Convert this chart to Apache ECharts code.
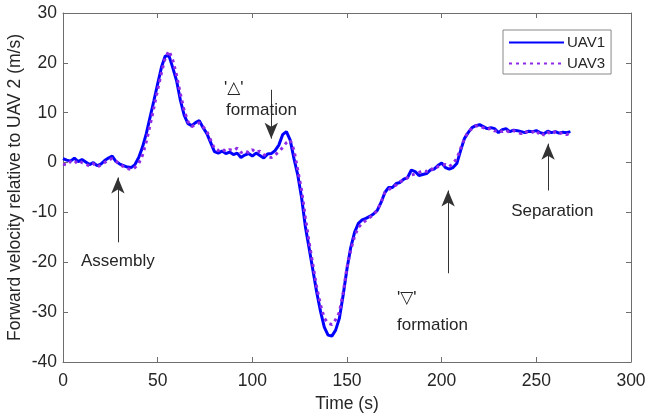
<!DOCTYPE html>
<html>
<head>
<meta charset="utf-8">
<script src="https://cdn.jsdelivr.net/npm/echarts@6/dist/echarts.min.js"></script>
<style>html,body{margin:0;padding:0;background:#fff;}#c{width:648px;height:416px;}</style>
</head>
<body>
<div id="c"></div>
<script>
var time = [0,2,4,6,8,10,12,14,16,18,20,22,24,26,28,30,32,34,36,38,40,42,44,46,48,50,52,54,56,58,60,62,64,66,68,70,72,74,76,78,80,82,84,86,88,90,92,94,96,98,100,102,104,106,108,110,112,114,116,118,120,122,124,126,128,130,132,134,136,138,140,142,144,146,148,150,152,154,156,158,160,162,164,166,168,170,172,174,176,178,180,182,184,186,188,190,192,194,196,198,200,202,204,206,208,210,212,214,216,218,220,222,224,226,228,230,232,234,236,238,240,242,244,246,248,250,252,254,256,258,260,262,264,266,268];
var uav1 = [0.8,0.5,0.3,0.9,0.2,0.6,0.1,-0.4,0.0,-0.6,-0.3,0.4,0.9,1.3,0.2,-0.3,-0.6,-0.9,-1.0,-0.4,1.0,3.1,5.8,9.1,12.4,15.8,19.1,21.4,21.4,19.0,16.4,12.5,9.5,7.8,7.4,8.0,8.4,7.0,5.8,4.0,2.2,1.9,2.3,1.8,2.1,1.6,1.9,1.0,1.5,1.8,1.3,1.9,1.4,0.9,1.7,1.8,2.4,3.5,5.6,6.2,4.5,0.8,-2.5,-7.0,-12.8,-17.2,-21.6,-26.0,-29.8,-33.0,-34.6,-34.8,-33.6,-31.2,-26.5,-21.3,-17.0,-14.0,-12.2,-11.5,-11.2,-10.8,-10.3,-9.6,-8.0,-6.0,-5.0,-5.0,-4.2,-4.0,-3.3,-3.0,-1.5,-1.8,-2.6,-2.4,-2.2,-1.5,-1.3,-0.6,-0.1,-1.0,-1.3,-1.0,-0.2,2.4,4.8,6.0,7.0,7.4,7.6,7.2,6.8,7.0,6.8,6.0,6.6,6.8,6.2,6.5,6.4,6.2,6.0,6.3,6.2,6.4,6.0,5.8,6.3,6.0,6.2,5.9,6.1,6.0,6.2];
var uav3 = [-0.3,-0.5,0.2,-0.2,0.5,0.0,-0.3,-0.7,-0.2,-0.9,-0.5,0.0,0.6,0.8,0.3,-0.4,-0.8,-1.2,-1.4,-1.0,-0.2,1.5,4.2,7.5,11.0,14.6,18.0,21.0,22.4,20.5,17.5,13.8,10.5,8.2,7.2,7.6,8.0,7.2,6.2,4.5,2.8,2.4,2.8,2.2,2.6,2.4,2.9,2.0,2.4,2.0,2.6,2.0,2.3,1.6,1.2,1.0,1.5,2.2,3.0,4.0,4.5,2.5,-1.5,-5.5,-11.0,-16.0,-20.5,-25.0,-28.5,-31.2,-32.2,-32.5,-31.5,-30.0,-26.0,-21.0,-17.5,-14.8,-13.0,-12.2,-11.6,-11.0,-10.5,-9.5,-8.0,-6.0,-5.5,-4.8,-4.5,-3.8,-3.6,-3.0,-2.5,-2.3,-2.0,-1.6,-1.8,-1.2,-1.5,-0.8,-0.6,-0.4,-0.8,-0.2,0.8,2.8,4.8,6.2,6.8,7.4,7.2,7.0,6.6,6.9,6.3,6.6,6.2,6.5,6.0,6.4,6.1,5.8,6.3,5.9,6.2,5.6,6.3,5.5,6.1,5.7,6.2,5.8,6.0,5.6,6.0];
var xTicks = [0,50,100,150,200,250,300];
var yTicks = [-40,-30,-20,-10,0,10,20,30];
// annotation arrows: [tailT, tailV, tipT, tipV]
var arrows = [[29,-16,29,-3],[110,14.6,110,4.8],[203.4,-22.2,203.4,-5.6],[256.2,-5.6,256.2,3.8]];
// annotation texts: [text, t, v]
var notes = [["Assembly",9.5,-19.8],["'\u25B3'",85,14.8],["formation",86.1,10.4],["'\u25BD'",176.4,-27.3],["formation",176.4,-32.7],["Separation",236.7,-9.8]];

var txt = '#262626';
var axisCol = '#6e6e6e';
function pairs(v){ return time.map(function(t,i){ return [t, v[i]]; }); }

var chart = echarts.init(document.getElementById('c'), null, {renderer:'canvas'});
var axisCommon = {
  min: 0, max: 300, interval: 50,
  axisLine: {show:true, onZero:false, lineStyle:{color:axisCol, width:1}},
  axisTick: {show:true, inside:true, length:5, lineStyle:{color:axisCol}},
  splitLine: {show:false}
};
var yCommon = {
  min: -40, max: 30, interval: 10,
  axisLine: {show:true, onZero:false, lineStyle:{color:axisCol, width:1}},
  axisTick: {show:true, inside:true, length:5, lineStyle:{color:axisCol}},
  splitLine: {show:false}
};
chart.setOption({
  animation: false,
  textStyle: {fontFamily: 'Liberation Sans, Arial, sans-serif'},
  grid: {left:63, right:17, top:13, bottom:54, containLabel:false, outerBoundsMode:'none'},
  legend: {
    data: ['UAV1','UAV3'],
    orient: 'vertical', left: 503, top: 30,
    padding: [5, 6, 3, 5], itemGap: 6, itemWidth: 55, itemHeight: 14,
    borderColor: '#888', borderWidth: 1, backgroundColor: '#fff',
    itemStyle: {color:'transparent', borderWidth:0, opacity:0},
    textStyle: {color: txt, fontSize: 15, fontFamily: 'Liberation Sans, Arial, sans-serif', padding:[0,0,0,-2]}
  },
  xAxis: [
    Object.assign({type:'value', position:'bottom', name:'Time (s)', nameLocation:'middle', nameGap:33,
      nameMoveOverlap:false,
      nameTextStyle:{color:txt, fontSize:17.5},
      axisLabel:{color:txt, fontSize:17.5, margin:10}}, axisCommon),
    Object.assign({type:'value', position:'top', axisLabel:{show:false}}, axisCommon)
  ],
  yAxis: [
    Object.assign({type:'value', position:'left', name:'Forward velocity relative to UAV 2 (m/s)', nameLocation:'middle', nameGap:39,
      nameMoveOverlap:false,
      nameTextStyle:{color:txt, fontSize:17.5},
      axisLabel:{color:txt, fontSize:17.5, margin:6}}, yCommon),
    Object.assign({type:'value', position:'right', axisLabel:{show:false}}, yCommon)
  ],
  series: [
    {name:'UAV1', type:'line', data: pairs(uav1), showSymbol:false, symbol:'none', z:3,
     lineStyle:{color:'#0000ff', width:3}, itemStyle:{color:'#0000ff'}},
    {name:'UAV3', type:'line', data: pairs(uav3), showSymbol:false, symbol:'none', z:4,
     lineStyle:{color:'#8f2be6', width:3, type:[3,4]}, itemStyle:{color:'#8f2be6'}},
    {name:'notes', type:'line', data: [], z:5,
     markLine: {
       silent: true, animation:false,
       symbol: ['none','arrow'], symbolSize: [10, 16],
       lineStyle: {color:'#333', width:1, type:'solid'},
       label: {show:false},
       data: arrows.map(function(a){ return [{coord:[a[0],a[1]]},{coord:[a[2],a[3]]}]; })
     }
    }
  ]
});

var g = notes.map(function(n){
  var p = chart.convertToPixel({xAxisIndex:0, yAxisIndex:0}, [n[1], n[2]]);
  return {type:'text', x:p[0], y:p[1], z:10,
    style:{text:n[0], fill:txt, font:'17px "Liberation Sans", Arial, "DejaVu Sans", sans-serif', textAlign:'left', textVerticalAlign:'middle'}};
});
chart.setOption({graphic: g});
</script>
</body>
</html>
